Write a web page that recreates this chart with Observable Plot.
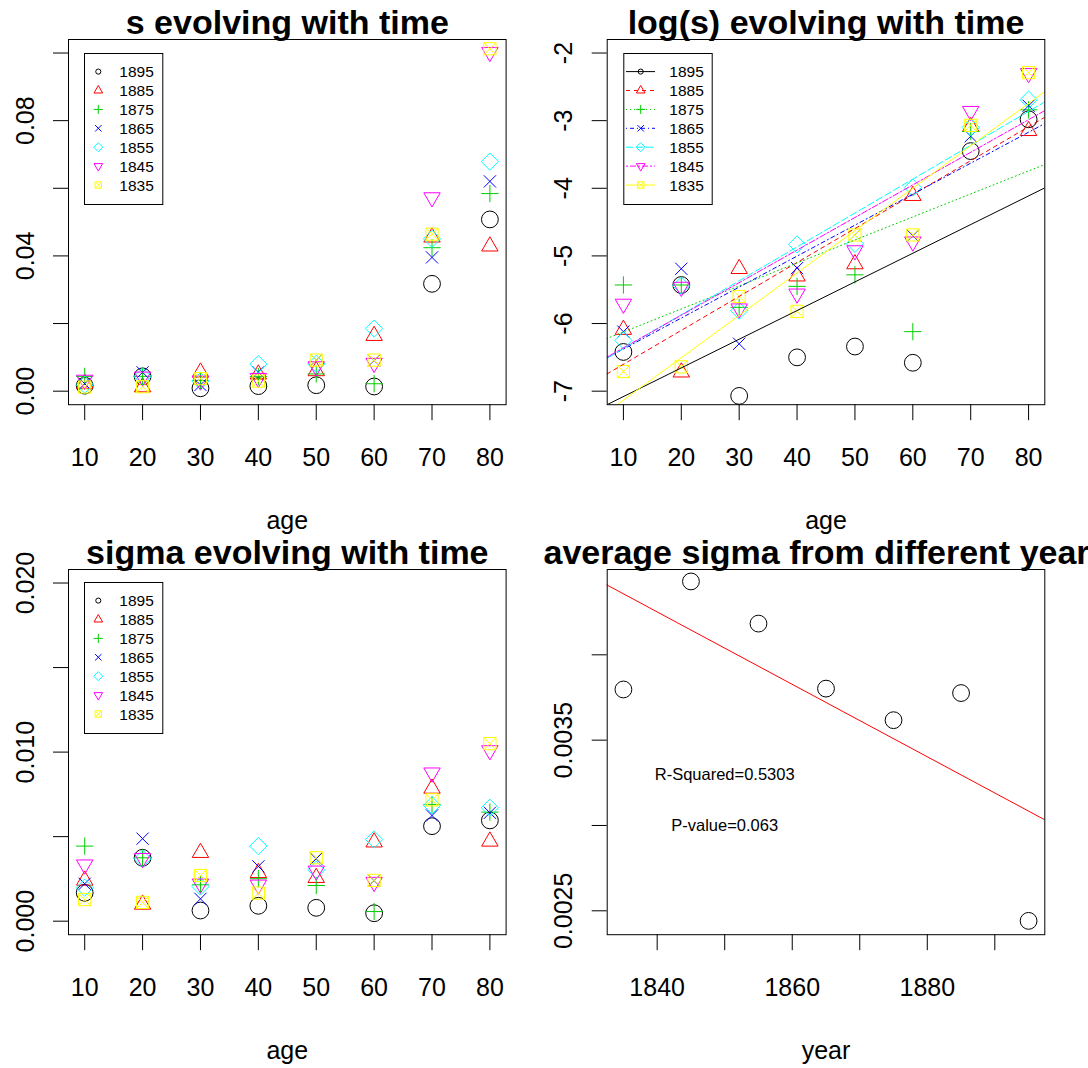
<!DOCTYPE html>
<html><head><meta charset="utf-8">
<script src="https://cdn.jsdelivr.net/npm/d3@7"></script>
<script src="https://cdn.jsdelivr.net/npm/@observablehq/plot@0.6"></script>
<style>
body{margin:0;background:#fff;}
#wrap{position:relative;width:1088px;height:1068px;overflow:hidden;background:#fff;font-family:"Liberation Sans",Arial,sans-serif;}
.panel{position:absolute;}
.panel svg{overflow:visible;max-width:none;}
.legend{position:absolute;left:0;top:0;pointer-events:none;}
</style></head><body><div id="wrap"></div>
<script>
// ---------- data ----------
const ages = [10, 20, 30, 40, 50, 60, 70, 80];
const years = [1895, 1885, 1875, 1865, 1855, 1845, 1835];
// log(s) per cohort, ages 10..80
const logS1895 = [-6.42, -5.43, -7.07, -6.50, -6.34, -6.58, -3.45, -2.98];
const logS1885 = [-6.09, -6.72, -5.19, -5.30, -5.12, -4.11, -3.09, -3.15];
const logS1875 = [-5.43, -5.43, -5.76, -5.45, -5.28, -6.12, -3.16, -2.84];
const logS1865 = [-6.12, -5.19, -6.30, -5.18, -4.69, -4.70, -3.23, -2.78];
const logS1855 = [-6.25, -5.44, -5.81, -4.83, -4.82, -3.99, -3.10, -2.69];
const logS1845 = [-5.71, -5.46, -5.78, -5.56, -4.92, -4.79, -2.86, -2.30];
const logS1835 = [-6.71, -6.64, -5.60, -5.82, -4.69, -4.69, -3.07, -2.29];
// sigma per cohort, ages 10..80
const sigma1895 = [0.00168, 0.00375, 0.00063, 0.00091, 0.00079, 0.00047, 0.00562, 0.00596];
const sigma1885 = [0.00241, 0.00099, 0.00405, 0.00286, 0.00257, 0.00467, 0.00785, 0.00472];
const sigma1875 = [0.00444, 0.00375, 0.00215, 0.00251, 0.00211, 0.00057, 0.00689, 0.00645];
const sigma1865 = [0.00221, 0.00488, 0.00132, 0.00324, 0.00369, 0.00240, 0.00625, 0.00641];
const sigma1855 = [0.00198, 0.00370, 0.00205, 0.00444, 0.00304, 0.00483, 0.00685, 0.00671];
const sigma1845 = [0.00334, 0.00372, 0.00221, 0.00215, 0.00298, 0.00231, 0.00878, 0.01010];
const sigma1835 = [0.00128, 0.00111, 0.00270, 0.00166, 0.00375, 0.00241, 0.00718, 0.01050];
// average sigma per year
const avgYears = [1835, 1845, 1855, 1865, 1875, 1885, 1895];
const avgSigma = [0.003797, 0.00443, 0.004183, 0.003802, 0.003617, 0.003776, 0.002441];
// tick labels
const ageTicks = [10, 20, 30, 40, 50, 60, 70, 80];
const ageLabels = ["10", "20", "30", "40", "50", "60", "70", "80"];
const sTicks = [0, 0.02, 0.04, 0.06, 0.08, 0.10];
const sLabels = ["0.00", "", "0.04", "", "0.08", ""];
const logTicks = [-7, -6, -5, -4, -3, -2];
const logLabels = ["-7", "-6", "-5", "-4", "-3", "-2"];
const sigTicks = [0, 0.005, 0.010, 0.015, 0.020];
const sigLabels = ["0.000", "", "0.010", "", "0.020"];
const yrTicks = [1840, 1850, 1860, 1870, 1880, 1890];
const yrLabels = ["1840", "", "1860", "", "1880", ""];
const avgTicks = [0.0025, 0.0030, 0.0035, 0.0040];
const avgLabels = ["0.0025", "", "0.0035", ""];
const annText = ["R-Squared=0.5303", "P-value=0.063"];

// ---------- styles ----------
const colors = ["#000000", "#FF0000", "#00CD00", "#0000FF", "#00FFFF", "#FF00FF", "#FFFF00"];
const dashes = [null, "4,4", "1,3", "1,3,4,3", "7,3", "2,2,6,2", null];
const kinds = ["circle", "triUp", "plus", "times", "diamond", "triDown", "squareX"];
const FONT = "'Liberation Sans', Arial, Helvetica, sans-serif";

function mkSymbol(kind, cr) {
  return {
    draw(ctx, size) {
      const u = Math.sqrt(size / Math.PI);
      const r = 1.5551 * u, xc = 1.3468 * u, yc = 0.7776 * u, q = Math.SQRT2 * u;
      switch (kind) {
        case "circle": ctx.moveTo(cr * u, 0); ctx.arc(0, 0, cr * u, 0, 2 * Math.PI); break;
        case "triUp": ctx.moveTo(0, -r); ctx.lineTo(xc, yc); ctx.lineTo(-xc, yc); ctx.closePath(); break;
        case "triDown": ctx.moveTo(0, r); ctx.lineTo(xc, -yc); ctx.lineTo(-xc, -yc); ctx.closePath(); break;
        case "plus": ctx.moveTo(-q, 0); ctx.lineTo(q, 0); ctx.moveTo(0, -q); ctx.lineTo(0, q); break;
        case "times": ctx.moveTo(-u, -u); ctx.lineTo(u, u); ctx.moveTo(-u, u); ctx.lineTo(u, -u); break;
        case "diamond": ctx.moveTo(0, -q); ctx.lineTo(q, 0); ctx.lineTo(0, q); ctx.lineTo(-q, 0); ctx.closePath(); break;
        case "squareX": ctx.moveTo(-u, -u); ctx.lineTo(u, -u); ctx.lineTo(u, u); ctx.lineTo(-u, u); ctx.closePath();
          ctx.moveTo(-u, -u); ctx.lineTo(u, u); ctx.moveTo(-u, u); ctx.lineTo(u, -u); break;
      }
    }
  };
}
const PT_R = 6.1, PT_CR = 1.377;
const plotSymbols = kinds.map(k => mkSymbol(k, PT_CR));
const LG_R = 3.2, LG_CR = 0.8;
const legSymbols = kinds.map(k => mkSymbol(k, LG_CR));

const logSeries = [logS1895, logS1885, logS1875, logS1865, logS1855, logS1845, logS1835];
const sigmaSeries = [sigma1895, sigma1885, sigma1875, sigma1865, sigma1855, sigma1845, sigma1835];

function linreg(xs, ys) {
  const mx = d3.mean(xs), my = d3.mean(ys);
  let sxy = 0, sxx = 0;
  xs.forEach((x, i) => { sxy += (x - mx) * (ys[i] - my); sxx += (x - mx) ** 2; });
  const slope = sxy / sxx;
  return {slope, intercept: my - slope * mx};
}

const wrap = document.getElementById("wrap");

function panel(o) {
  const fmt = (ticks, labels) => d => { const i = ticks.findIndex(t => Math.abs(t - d) < 1e-9); return i < 0 ? "" : labels[i]; };
  const plot = Plot.plot({
    width: o.width, height: o.height,
    marginLeft: o.mL, marginRight: o.width - o.mL - 437.6, marginTop: 39, marginBottom: o.height - 39 - 365.2,
    x: {domain: o.xDomain, label: null},
    y: {domain: o.yDomain, label: null},
    style: {background: "transparent", overflow: "visible", fontFamily: FONT, color: "black"},
    marks: [
      ...o.marks,
      Plot.frame({stroke: "black", strokeWidth: 1}),
      Plot.axisX({ticks: o.xTicks, tickSize: 16, tickPadding: 28, tickFormat: fmt(o.xTicks, o.xLabels), fontSize: 25, label: null}),
      Plot.axisY({ticks: o.yTicks, tickSize: 15, tickPadding: 20, tickRotate: -90, textAnchor: "middle", lineAnchor: "bottom",
        tickFormat: fmt(o.yTicks, o.yLabels), fontSize: 25, label: null}),
      Plot.text([o.title], {frameAnchor: "top", dy: -6, lineAnchor: "bottom", fontWeight: "bold", fontSize: 34}),
      Plot.text([o.xTitle], {frameAnchor: "bottom", dy: 124, lineAnchor: "bottom", fontSize: 25})
    ]
  });
  const div = document.createElement("div");
  div.className = "panel";
  div.style.left = o.left + "px"; div.style.top = o.top + "px";
  div.style.width = o.width + "px"; div.style.height = o.height + "px";
  div.appendChild(plot);
  wrap.appendChild(div);
  return div;
}

function legend(div, bx, by, withLines) {
  const bw = withLines ? 88.4 : 78.3, bh = 151;
  const svg = d3.select(div).append("svg").attr("class", "legend")
    .attr("width", 544).attr("height", 534).style("overflow", "visible");
  svg.append("rect").attr("x", bx + 0.5).attr("y", by + 0.5).attr("width", bw).attr("height", bh)
    .attr("fill", "white").attr("stroke", "black").attr("stroke-width", 1);
  years.forEach((yr, i) => {
    const cy = by + 18.6 + i * 18.9;
    const sx = withLines ? bx + 17.4 : bx + 14.3;
    if (withLines) {
      svg.append("line").attr("x1", bx + 2.7).attr("x2", bx + 31.7).attr("y1", cy).attr("y2", cy)
        .attr("stroke", colors[i]).attr("stroke-width", 1).attr("stroke-dasharray", dashes[i]);
    }
    svg.append("path").attr("d", d3.symbol(legSymbols[i], LG_R * LG_R * Math.PI)())
      .attr("transform", `translate(${sx},${cy})`).attr("fill", "none").attr("stroke", colors[i]).attr("stroke-width", 1);
    svg.append("text").attr("x", withLines ? bx + 46 : bx + 35.3).attr("y", cy).attr("dy", "0.36em")
      .attr("font-family", FONT).attr("font-size", 15.5).attr("fill", "black").text(String(yr));
  });
}

const X_DOM = [7.2, 82.8];

// Panel 1: s
const p1marks = logSeries.map((ls, i) => Plot.dot(ages.map((a, j) => ({age: a, s: Math.exp(ls[j])})),
  {x: "age", y: "s", r: PT_R, symbol: plotSymbols[i], stroke: colors[i], fill: "none", strokeWidth: 1}));
const d1 = panel({left: 0, top: 0, width: 544, height: 530, mL: 68, xDomain: X_DOM, yDomain: [-0.004, 0.104],
  xTicks: ageTicks, xLabels: ageLabels, yTicks: sTicks, yLabels: sLabels,
  title: "s evolving with time", xTitle: "age", marks: p1marks});
legend(d1, 84, 53, false);

// Panel 2: log(s) with fitted lines
const p2marks = [];
logSeries.forEach((ls, i) => {
  p2marks.push(Plot.dot(ages.map((a, j) => ({age: a, v: ls[j]})),
    {x: "age", y: "v", r: PT_R, symbol: plotSymbols[i], stroke: colors[i], fill: "none", strokeWidth: 1}));
});
logSeries.forEach((ls, i) => {
  const {slope, intercept} = linreg(ages, ls);
  const seg = [0, 90].map(x => ({x, y: intercept + slope * x}));
  p2marks.push(Plot.line(seg, {x: "x", y: "y", stroke: colors[i], strokeWidth: 1, strokeDasharray: dashes[i], clip: true}));
});
const d2 = panel({left: 544, top: 0, width: 544, height: 530, mL: 62.7, xDomain: X_DOM, yDomain: [-7.2, -1.8],
  xTicks: ageTicks, xLabels: ageLabels, yTicks: logTicks, yLabels: logLabels,
  title: "log(s) evolving with time", xTitle: "age", marks: p2marks});
legend(d2, 79.3, 53, true);

// Panel 3: sigma
const p3marks = sigmaSeries.map((ss, i) => Plot.dot(ages.map((a, j) => ({age: a, v: ss[j]})),
  {x: "age", y: "v", r: PT_R, symbol: plotSymbols[i], stroke: colors[i], fill: "none", strokeWidth: 1}));
const d3p = panel({left: 0, top: 530, width: 544, height: 538, mL: 68, xDomain: X_DOM, yDomain: [-0.0008, 0.0208],
  xTicks: ageTicks, xLabels: ageLabels, yTicks: sigTicks, yLabels: sigLabels,
  title: "sigma evolving with time", xTitle: "age", marks: p3marks});
legend(d3p, 84, 52, false);

// Panel 4: average sigma
const fit4 = linreg(avgYears, avgSigma);
const seg4 = [1825, 1905].map(x => ({x, y: fit4.intercept + fit4.slope * x}));
const p4marks = [
  Plot.line(seg4, {x: "x", y: "y", stroke: "#FF0000", strokeWidth: 1, clip: true}),
  Plot.dot(avgYears.map((y, i) => ({year: y, v: avgSigma[i]})),
    {x: "year", y: "v", r: PT_R, symbol: plotSymbols[0], stroke: "black", fill: "none", strokeWidth: 1}),
  Plot.text([{x: 1850, y: 0.0033, t: annText[0]}, {x: 1850, y: 0.0030, t: annText[1]}],
    {x: "x", y: "y", text: "t", fontSize: 16.5, lineAnchor: "middle", fill: "black"})
];
panel({left: 544, top: 530, width: 544, height: 538, mL: 62.7, xDomain: [1832.6, 1897.4], yDomain: [0.00236, 0.0045],
  xTicks: yrTicks, xLabels: yrLabels, yTicks: avgTicks, yLabels: avgLabels,
  title: "average sigma from different years", xTitle: "year", marks: p4marks});
</script></body></html>
